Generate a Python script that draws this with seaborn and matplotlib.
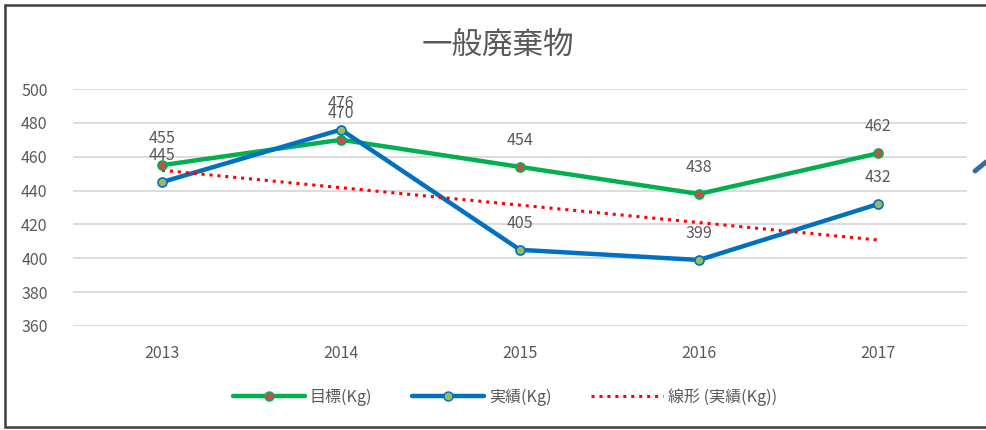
import numpy as np
import pandas as pd
import matplotlib
matplotlib.use("Agg")
import matplotlib.pyplot as plt
from matplotlib.lines import Line2D
import seaborn as sns

years = ["2013", "2014", "2015", "2016", "2017"]
target = [455, 470, 454, 438, 462]
actual = [445, 476, 405, 399, 432]
series_names = ["目標(Kg)", "実績(Kg)"]
trend_name = "線形 (実績(Kg))"
title = "一般廃棄物"
yticks = [360, 380, 400, 420, 440, 460, 480, 500]

sns.set_theme(style="white")
plt.rcParams['font.family'] = ['Noto Sans CJK JP', 'DejaVu Sans']

x = np.arange(len(years))
df = pd.DataFrame({
    "x": np.concatenate([x, x]),
    "value": target + actual,
    "series": [series_names[0]] * len(x) + [series_names[1]] * len(x),
})

fig = plt.figure(figsize=(9.86, 4.30), dpi=100)
ax = fig.add_axes([72.5 / 986, 1 - 326 / 430, (967.5 - 72.5) / 986, (326 - 89) / 430])

line_col = {series_names[0]: "#00b050", series_names[1]: "#0070c0"}
mk_face = {series_names[0]: "#c0504d", series_names[1]: "#9bbb59"}

sns.lineplot(data=df, x="x", y="value", hue="series", palette=line_col,
             linewidth=3.2, ax=ax, legend=False, sort=False)
for name, vals in zip(series_names, [target, actual]):
    ax.plot(x, vals, linestyle="none", marker="o", markersize=6.5,
            markerfacecolor=mk_face[name], markeredgecolor=line_col[name],
            markeredgewidth=1.2, zorder=5)
    for xi, v in zip(x, vals):
        ax.annotate(str(v), (xi, v), xytext=(0, 19), textcoords="offset points",
                    ha="center", va="center", fontsize=11.5, color="#595959")

# linear trendline of actual
coef = np.polyfit(x + 1, actual, 1)
trend = np.polyval(coef, x + 1)
ax.plot(x, trend, linestyle=(0, (1, 1.6)), color="#ff0000", linewidth=2.2, zorder=3)

ax.set_xlim(-0.5, len(years) - 0.5)
ax.set_ylim(360, 500)
ax.set_yticks(yticks)
ax.set_xticks(x)
ax.set_xticklabels(years)
ax.yaxis.grid(True, color="#d9d9d9", linewidth=1.3)
ax.set_axisbelow(True)
for s in ax.spines.values():
    s.set_visible(False)
ax.tick_params(axis="both", length=0, labelsize=11.5, labelcolor="#595959")
ax.tick_params(axis="x", pad=14)
ax.tick_params(axis="y", pad=18)
ax.set_xlabel("")
ax.set_ylabel("")

fig.text(498 / 986, 1 - 45 / 430, title, ha="center", va="center",
         fontsize=22, color="#595959")

handles = [
    Line2D([], [], color=line_col[series_names[0]], linewidth=3.2, marker="o",
           markersize=6.5, markerfacecolor=mk_face[series_names[0]],
           markeredgecolor=line_col[series_names[0]]),
    Line2D([], [], color=line_col[series_names[1]], linewidth=3.2, marker="o",
           markersize=6.5, markerfacecolor=mk_face[series_names[1]],
           markeredgecolor=line_col[series_names[1]]),
    Line2D([], [], color="#ff0000", linewidth=2.2, linestyle=(0, (1, 1.6))),
]
leg = fig.legend(handles, series_names + [trend_name], loc="center",
                 bbox_to_anchor=(505 / 986, 1 - 397 / 430), ncol=3, frameon=False,
                 fontsize=11.5, handlelength=4.5, columnspacing=2.5, handletextpad=0.3)
for t in leg.get_texts():
    t.set_color("#595959")

# chart border (cut at right edge)
border = dict(color="#404040", linewidth=1.8, transform=fig.transFigure)
fig.add_artist(Line2D([5 / 986, 1], [1 - 5 / 430, 1 - 5 / 430], **border))
fig.add_artist(Line2D([5 / 986, 5 / 986], [1 - 5 / 430, 1 - 427 / 430], **border))
fig.add_artist(Line2D([5 / 986, 1], [1 - 427 / 430, 1 - 427 / 430], **border))
# fragment of an external arrow at right edge
fig.add_artist(Line2D([975 / 986, 1], [1 - 171 / 430, 1 - 162 / 430],
                      color="#2e6da4", linewidth=3.5, transform=fig.transFigure))

fig.savefig("out.png", dpi=100)
